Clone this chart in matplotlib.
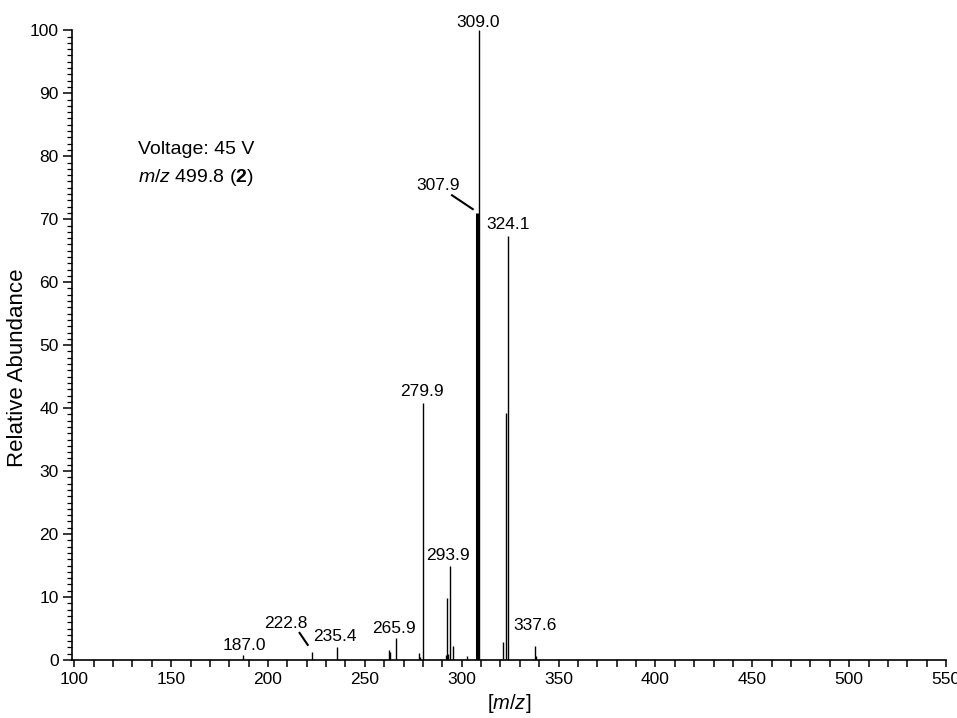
import numpy as np
import matplotlib
matplotlib.use("Agg")
import matplotlib.pyplot as plt
from matplotlib.ticker import MultipleLocator

plt.rcParams['font.family'] = ['Liberation Sans', 'DejaVu Sans']
plt.rcParams['mathtext.fontset'] = 'custom'
plt.rcParams['mathtext.rm'] = 'Liberation Sans'
plt.rcParams['mathtext.it'] = 'Liberation Sans:italic'
plt.rcParams['mathtext.bf'] = 'Liberation Sans:bold'

# peak list (m/z, relative abundance)
mz = [187.0, 222.8, 235.4, 262.6, 263.1, 265.9, 277.7, 278.3, 279.9,
      292.1, 292.6, 293.1, 293.9, 295.6, 302.6, 309.0,
      321.5, 322.9, 324.1, 337.6, 338.2]
abundance = [0.8, 1.3, 2.1, 1.6, 1.3, 3.5, 1.1, 0.4, 40.8,
             0.8, 9.8, 1.0, 14.9, 2.3, 0.6, 100.0,
             2.8, 39.3, 67.3, 2.3, 0.6]
# the broad peak next to the base peak
thick_mz = [307.9]
thick_ab = [71.0]

# labelled peaks
label_txt = ["187.0", "222.8", "235.4", "265.9", "279.9", "293.9",
             "307.9", "309.0", "324.1", "337.6"]

fig = plt.figure(figsize=(9.57, 7.18), dpi=100)
ax = fig.add_axes([0.0752, 0.0808, 0.9133, 0.877])

ax.vlines(mz, 0, abundance, color='black', lw=1.0)
ax.vlines(thick_mz, 0, thick_ab, color='black', lw=2.2)

ax.set_xlim(98.8, 550)
ax.set_ylim(0, 100)

ax.spines['top'].set_visible(False)
ax.spines['right'].set_visible(False)
ax.spines['left'].set_linewidth(1.2)
ax.spines['bottom'].set_linewidth(1.2)

ax.xaxis.set_major_locator(MultipleLocator(50))
ax.xaxis.set_minor_locator(MultipleLocator(10))
ax.yaxis.set_major_locator(MultipleLocator(10))
ax.yaxis.set_minor_locator(MultipleLocator(1))
ax.tick_params(axis='x', which='both', direction='out', length=5, width=1.1, labelsize=12.5, pad=4)
ax.tick_params(axis='y', which='major', direction='out', length=6.5, width=1.1, labelsize=12.5, pad=3)
ax.tick_params(axis='y', which='minor', direction='out', length=3.8, width=0.9)

fig.text(18 / 957, 1 - 368 / 718, "Relative Abundance", rotation=90,
         ha='center', va='center', fontsize=16)
ax.set_xlabel("[$\\mathit{m/z}$]", fontsize=14.5, labelpad=3)

# label placement: (dx, baseline y) relative to each labelled peak
place = {
    "187.0": (0.6, 1.6), "222.8": (-13.4, 5.1), "235.4": (-0.9, 3.0),
    "265.9": (-0.9, 4.3), "279.9": (-0.3, 42.0), "293.9": (-0.8, 15.9),
    "307.9": (-20.1, 74.6), "309.0": (-0.5, 100.5), "324.1": (-0.3, 68.5),
    "337.6": (0.1, 4.8),
}
fs = 12.5
for t in label_txt:
    x = float(t)
    dx, yb = place[t]
    ax.text(x + dx, yb, t, ha='center', va='baseline', fontsize=fs, clip_on=False)

# leader lines
ax.plot([222.8 - 6.5, 222.8 - 2.3], [4.3, 2.4], color='black', lw=1.5)
ax.plot([307.9 - 12.9, 307.9 - 2.2], [73.8, 71.6], color='black', lw=1.5)

ax.text(132.9, 80.4, "Voltage: 45 V", ha='left', va='baseline', fontsize=14)
ax.text(132.9, 75.9, "$\\mathit{m/z}$ 499.8 ($\\mathbf{2}$)", ha='left', va='baseline', fontsize=14)

fig.savefig("out.png", dpi=100)
